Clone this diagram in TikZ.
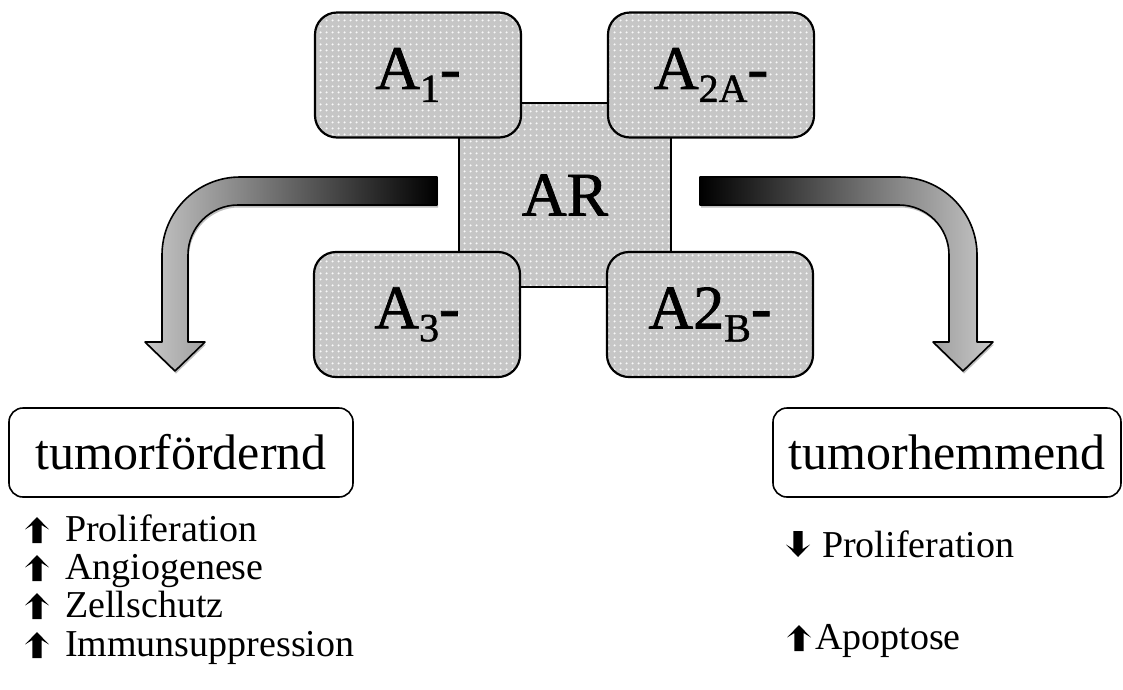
\documentclass[tikz,border=0pt]{standalone}
\usepackage{fontspec}
\setmainfont{Liberation Serif}
\newfontfamily\boxfont[FakeBold=1.2]{Liberation Serif}
\usetikzlibrary{patterns.meta,shadows}
\definecolor{boxgray}{RGB}{198,198,198}
\definecolor{arrowlight}{RGB}{200,200,200}
\pgfdeclarepattern{name=bigdots, type=uncolored,
  bottom left={\pgfpoint{0pt}{0pt}}, top right={\pgfpoint{6pt}{6pt}},
  tile size={\pgfpoint{6pt}{6pt}},
  code={\pgfpathcircle{\pgfpoint{3pt}{3pt}}{1.3pt}\pgfusepath{fill}}}
\newcommand{\lblsub}[1]{\raisebox{-13pt}{\fontsize{40}{40}\selectfont #1}}
\tikzset{
  rbox/.style={draw, line width=2.2pt, rounded corners=22pt, minimum width=206pt,
    minimum height=125pt, inner sep=0pt, preaction={fill=boxgray},
    pattern=bigdots, pattern color=white!95!gray,
    font=\boxfont\fontsize{62}{62}\selectfont},
  sqbox/.style={draw, line width=2.2pt, minimum width=212pt, minimum height=184pt,
    inner sep=0pt, preaction={fill=boxgray},
    pattern=bigdots, pattern color=white!95!gray,
    font=\boxfont\fontsize{62}{62}\selectfont},
  headbox/.style={draw, line width=1.6pt, rounded corners=14pt, minimum height=89pt,
    inner sep=0pt, font=\fontsize{50}{50}\selectfont},
  listtext/.style={anchor=base west, inner sep=0pt, font=\fontsize{38}{38}\selectfont},
  bigarrow/.style={draw, line width=1.6pt, line join=round,
    drop shadow={shadow xshift=1pt, shadow yshift=-2.5pt, opacity=0.25, fill=black}}
}
\newcommand{\upglyph}{(0,-13) -- (12,-0.5) -- (4.6,-5) -- (4.6,13) -- (-4.6,13) -- (-4.6,-5) -- (-12,-0.5) -- cycle}
\newcommand{\downglyph}{(0,13) -- (12,0.5) -- (4.6,5) -- (4.6,-13) -- (-4.6,-13) -- (-4.6,5) -- (-12,0.5) -- cycle}
\begin{document}
\begin{tikzpicture}[x=1pt,y=-1pt]
\useasboundingbox (0,0) rectangle (1123,689);

% big curved arrows
\path[bigarrow, left color=arrowlight, right color=black]
  (437,177) -- (240,177) .. controls (197,177) and (162,212) .. (162,255)
  -- (162,342) -- (145,342) -- (175,371) -- (205,342) -- (188,342)
  -- (188,255) .. controls (188,227.4) and (210.4,205) .. (238,205)
  -- (437,205) -- cycle;
\path[bigarrow, left color=black, right color=arrowlight]
  (700,177) -- (899,177) .. controls (942,177) and (977,212) .. (977,255)
  -- (977,342) -- (993,342) -- (963,371) -- (933,342) -- (949,342)
  -- (949,255) .. controls (949,227.4) and (926.6,205) .. (899,205)
  -- (700,205) -- cycle;

% central square and receptor boxes
\node[sqbox] (ar) at (565,195) {AR};
\node[rbox] (a1) at (418,75) {A\lblsub{1}-};
\node[rbox] (a2a) at (711,75) {A\lblsub{2A}-};
\node[rbox] (a3) at (417,314.5) {A\lblsub{3}-};
\node[rbox] (a2b) at (710,314.5) {A2\lblsub{B}-};

% outcome boxes
\node[headbox, minimum width=344pt] (pro) at (181,452.5) {tumorfördernd};
\node[headbox, minimum width=348pt] (anti) at (947,452.5) {tumorhemmend};

% left list
\node[listtext] (l1) at (65,541) {Proliferation};
\node[listtext] (l2) at (65,579) {Angiogenese};
\node[listtext] (l3) at (65,617) {Zellschutz};
\node[listtext] (l4) at (65,656) {Immunsuppression};
\coordinate (u1) at (37,530);
\coordinate (u2) at (37,568);
\coordinate (u3) at (37,606);
\coordinate (u4) at (37,645);
\foreach \c in {u1,u2,u3,u4}{
  \fill[shift={(\c)}] \upglyph;
}
% right list
\node[listtext] (r1) at (822,557) {Proliferation};
\node[listtext] (r2) at (815,649) {Apoptose};
\coordinate (d1) at (798,544);
\coordinate (u5) at (799,638);
\fill[shift={(d1)}] \downglyph;
\fill[shift={(u5)}] \upglyph;
\end{tikzpicture}
\end{document}
